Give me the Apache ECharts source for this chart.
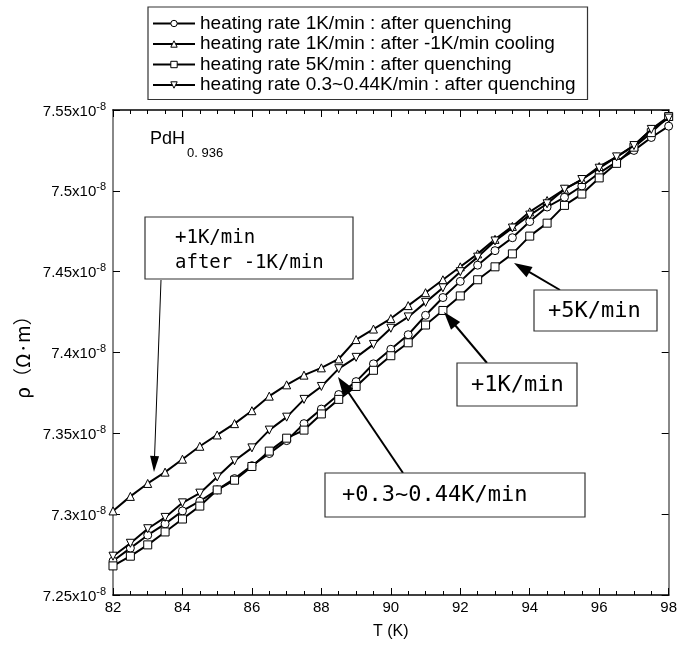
<!DOCTYPE html>
<html>
<head>
<meta charset="utf-8">
<script src="https://cdn.jsdelivr.net/npm/echarts@6/dist/echarts.min.js"></script>
<style>
html,body{margin:0;padding:0;background:#fff;}
#chart{width:680px;height:645px;}
</style>
</head>
<body>
<div id="chart"></div>
<script>
// Temperature (K)
var temps = [82,82.5,83,83.5,84,84.5,85,85.5,86,86.5,87,87.5,88,88.5,89,89.5,90,90.5,91,91.5,92,92.5,93,93.5,94,94.5,95,95.5,96,96.5,97,97.5,98];
// resistivity in units of 1e-8 Ohm m
var rate1Quench = [7.271,7.279,7.287,7.294,7.302,7.308,7.315,7.322,7.330,7.3375,7.3455,7.356,7.365,7.374,7.382,7.393,7.402,7.411,7.423,7.434,7.444,7.454,7.463,7.471,7.481,7.490,7.496,7.503,7.511,7.518,7.525,7.533,7.540];
var rate1AfterCool = [7.302,7.311,7.319,7.326,7.334,7.342,7.349,7.356,7.364,7.373,7.380,7.386,7.3905,7.396,7.408,7.4145,7.421,7.429,7.437,7.445,7.453,7.461,7.470,7.478,7.487,7.494,7.501,7.507,7.515,7.521,7.528,7.538,7.546];
var rate5Quench = [7.268,7.274,7.281,7.289,7.297,7.305,7.315,7.321,7.3295,7.339,7.347,7.352,7.362,7.371,7.379,7.389,7.398,7.406,7.417,7.426,7.435,7.445,7.453,7.461,7.472,7.480,7.491,7.498,7.508,7.517,7.527,7.536,7.546];
var rateSlowQuench = [7.274,7.282,7.291,7.298,7.307,7.313,7.323,7.333,7.341,7.352,7.360,7.371,7.379,7.390,7.397,7.405,7.415,7.422,7.431,7.440,7.450,7.459,7.469,7.477,7.485,7.492,7.501,7.507,7.514,7.521,7.528,7.538,7.545];

var seriesNames = [
  'heating rate 1K/min : after quenching',
  'heating rate 1K/min : after -1K/min cooling',
  'heating rate 5K/min : after quenching',
  'heating rate 0.3~0.44K/min : after quenching'
];
var seriesData = [rate1Quench, rate1AfterCool, rate5Quench, rateSlowQuench];
var symbols = ['circle','triangle','rect','triangle'];
var rotations = [0,0,0,180];

var chart = echarts.init(document.getElementById('chart'));

function pair(arr){ return temps.map(function(t,i){ return [t, arr[i]]; }); }

var series = seriesNames.map(function(n, k){
  return {
    name: n, type: 'line', data: pair(seriesData[k]),
    symbol: symbols[k], symbolSize: 8, symbolRotate: rotations[k],
    showAllSymbol: true,
    lineStyle: {color:'#000', width: 2},
    itemStyle: {color:'#fff', borderColor:'#000', borderWidth: 1},
    emphasis: {disabled: true},
    z: 2 + k
  };
});

var mono = '"DejaVu Sans Mono", "Liberation Mono", monospace';
var sans = '"Liberation Sans", Arial, sans-serif';

function arrow(x1,y1,x2,y2,lw,hw,hl){
  var dx=x2-x1, dy=y2-y1, L=Math.sqrt(dx*dx+dy*dy), ux=dx/L, uy=dy/L;
  var bx=x2-ux*hl, by=y2-uy*hl, px=-uy, py=ux;
  return [
    {type:'line', shape:{x1:x1,y1:y1,x2:bx+ux*2,y2:by+uy*2}, style:{stroke:'#000', lineWidth:lw}, z:20},
    {type:'polygon', shape:{points:[[x2,y2],[bx+px*hw/2,by+py*hw/2],[bx-px*hw/2,by-py*hw/2]]}, style:{fill:'#000'}, z:20}
  ];
}
function box(x,y,w,h){
  return {type:'rect', shape:{x:x,y:y,width:w,height:h}, style:{fill:'#fff', stroke:'#333', lineWidth:1.2}, z:21};
}
function txt(x,y,s,size,font){
  return {type:'text', x:x, y:y, style:{text:s, font: size+'px '+font, fill:'#000', textVerticalAlign:'middle'}, z:22};
}

var graphics = [].concat(
  arrow(161,280,154,472,1,9,16),
  arrow(560,290,514,263,2,12,18),
  arrow(487,363,444,312,2,12,18),
  arrow(403,473,338,377,2,12,18),
  [
    box(145,217,208,62),
    txt(175,238,'+1K/min',19,mono),
    txt(175,263,'after -1K/min',19,mono),
    box(534,290,123,41),
    txt(548,311,'+5K/min',22,mono),
    box(457,363,120,43),
    txt(471,385,'+1K/min',22,mono),
    box(325,473,260,44),
    txt(342,495,'+0.3~0.44K/min',22,mono),
    {type:'text', x:150, y:130, style:{text:'PdH', font:'18px '+sans, fill:'#000'}, z:22},
    {type:'text', x:187, y:147, style:{text:'0. 936', font:'13px '+sans, fill:'#000'}, z:22}
  ]
);

var option = {
  animation: false,
  backgroundColor: '#fff',
  grid: {left:113, right:4, top:110, bottom:49, containLabel:false},
  legend: {
    data: seriesNames, orient:'vertical', left:148, top:7,
    padding:[7,12,5,4], itemGap:1.5, itemWidth:42, itemHeight:8,
    borderColor:'#333', borderWidth:1.2, backgroundColor:'#fff',
    itemStyle:{borderWidth:1},
    lineStyle:{width:2},
    textStyle:{fontFamily:sans, fontSize:19, lineHeight:19, color:'#000'},
    selectedMode:false
  },
  xAxis: [{
    type:'value', min:82, max:98, interval:2, position:'bottom',
    name:'T (K)', nameLocation:'middle', nameGap:29,
    nameTextStyle:{fontFamily:sans, fontSize:16, color:'#000'},
    axisLine:{lineStyle:{color:'#000', width:1.5}},
    axisTick:{inside:true, length:7, lineStyle:{color:'#000'}},
    minorTick:{show:true, splitNumber:4, length:4, lineStyle:{color:'#000'}},
    splitLine:{show:false},
    axisLabel:{fontFamily:sans, fontSize:15, color:'#000', margin:5}
  },{
    type:'value', min:82, max:98, interval:2, position:'top',
    axisLine:{lineStyle:{color:'#000', width:1.5}},
    axisTick:{inside:true, length:7, lineStyle:{color:'#000'}},
    minorTick:{show:true, splitNumber:4, length:4, lineStyle:{color:'#000'}},
    splitLine:{show:false}, axisLabel:{show:false}
  }],
  yAxis: [{
    type:'value', min:7.25, max:7.55, interval:0.05, position:'left',
    name:'ρ（Ω·m）', nameLocation:'middle', nameGap:66,
    nameTextStyle:{fontFamily:'"Noto Sans CJK JP", sans-serif', fontSize:19, color:'#000'},
    axisLine:{lineStyle:{color:'#888', width:2}},
    axisTick:{inside:true, length:7, lineStyle:{color:'#000'}},
    splitLine:{show:false},
    axisLabel:{
      margin:7, color:'#000',
      formatter:function(v){ return '{m|' + (+v.toFixed(2)) + 'x10}{s|-8}'; },
      rich:{
        m:{fontFamily:sans, fontSize:15, color:'#000', lineHeight:18, verticalAlign:'bottom'},
        s:{fontFamily:sans, fontSize:11, color:'#000', lineHeight:18, verticalAlign:'top', padding:[0,0,8,0]}
      }
    }
  },{
    type:'value', min:7.25, max:7.55, interval:0.05, position:'right',
    axisLine:{lineStyle:{color:'#888', width:2}},
    axisTick:{inside:true, length:7, lineStyle:{color:'#000'}},
    splitLine:{show:false}, axisLabel:{show:false}
  }],
  series: series,
  graphic: graphics
};
chart.setOption(option);
</script>
</body>
</html>
